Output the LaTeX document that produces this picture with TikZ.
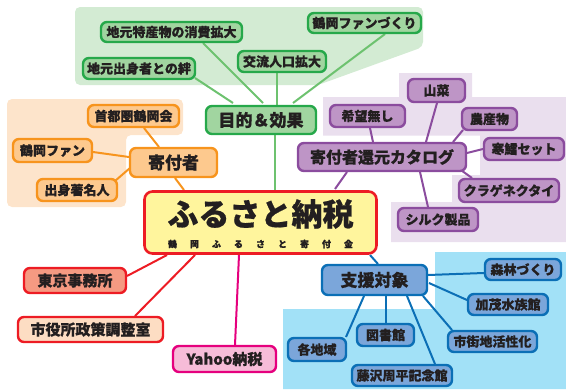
\documentclass[tikz,border=0pt]{standalone}
\usepackage{fontspec}
\setmainfont{Noto Sans CJK JP}[BoldFeatures={FakeBold=0.6}]
\usetikzlibrary{calc}
\pgfdeclarelayer{bgr}
\pgfdeclarelayer{edges}
\pgfsetlayers{bgr,edges,main}
\definecolor{txt}{HTML}{231F20}
\definecolor{gBg}{HTML}{D3EBD3}
\definecolor{gF}{HTML}{A1D5A0}
\definecolor{gD}{HTML}{26A84A}
\definecolor{gL}{HTML}{6DC26F}
\definecolor{oBg}{HTML}{FDE4CB}
\definecolor{oF}{HTML}{FDC98E}
\definecolor{oD}{HTML}{F7941D}
\definecolor{pBg}{HTML}{EADFEE}
\definecolor{pF}{HTML}{BE95C6}
\definecolor{pD}{HTML}{8B4C9E}
\definecolor{bBg}{HTML}{A2E1F7}
\definecolor{bF}{HTML}{7BA6DA}
\definecolor{bD}{HTML}{0B6FB6}
\definecolor{rD}{HTML}{ED1C24}
\definecolor{rF}{HTML}{F59A82}
\definecolor{rF2}{HTML}{FDDDC3}
\definecolor{mD}{HTML}{E5007E}
\definecolor{mF}{HTML}{F6BCD8}
\definecolor{yF}{HTML}{FFF59D}
\tikzset{
  box/.style={draw, rounded corners=6pt, line width=2.4pt, inner sep=0pt, text=txt,
    font=\bfseries\fontsize{13}{13}\selectfont},
  big/.style={font=\bfseries\fontsize{17}{17}\selectfont},
  mid/.style={font=\bfseries\fontsize{15}{15}\selectfont},
  gbox/.style={box, draw=gD, fill=gF},
  obox/.style={box, draw=oD, fill=oF},
  pbox/.style={box, draw=pD, fill=pF},
  bbox/.style={box, draw=bD, fill=bF},
  gline/.style={draw=gL, line width=2pt},
  oline/.style={draw=oD, line width=2pt},
  pline/.style={draw=pD, line width=2pt},
  bline/.style={draw=bD, line width=2pt},
  rline/.style={draw=rD, line width=2pt},
  mline/.style={draw=mD, line width=2pt},
  sz/.style n args={2}{minimum width=#1pt, minimum height=#2pt},
}
\begin{document}
\begin{tikzpicture}[x=1pt,y=-1pt]
\useasboundingbox (0,0) rectangle (566,389);
% main
\node[box, draw=rD, fill=yF, rounded corners=8pt, line width=2.6pt, sz={232}{62}] (main) at (260.5,222.5) {};
\node[text=txt, font=\bfseries\fontsize{31}{31}\selectfont\addfontfeature{FakeBold=1.5}, inner sep=0pt] (title) at (260.5,214) {ふるさと納税};
\node[text=txt, font=\bfseries\fontsize{9}{9}\selectfont, inner sep=0pt] (sub) at (260.5,244) {\makebox[185pt][s]{鶴\hfill 岡\hfill ふ\hfill る\hfill さ\hfill と\hfill 寄\hfill 付\hfill 金}};
% green
\node[gbox, sz={141}{20}] (tok) at (171.5,32) {地元特産物の消費拡大};
\node[gbox, sz={113}{20}] (fan2) at (364.5,23) {鶴岡ファンづくり};
\node[gbox, sz={88}{21}] (kor) at (282,61.5) {交流人口拡大};
\node[gbox, sz={112}{21}] (kiz) at (139,68.5) {地元出身者との絆};
\node[gbox, big, sz={110}{28}] (mok) at (261,120) {目的＆効果};
% orange
\node[obox, big, sz={87}{29}] (kif) at (173.5,162.5) {寄付者};
\node[obox, sz={91}{22}] (shu) at (133.5,116) {首都圏鶴岡会};
\node[obox, sz={79}{23}] (tfan) at (52.5,150.5) {鶴岡ファン};
\node[obox, sz={80}{22}] (shus) at (77,190) {出身著名人};
% red / pink
\node[box, mid, draw=rD, fill=rF, sz={102}{25}] (tok2) at (75,280.5) {東京事務所};
\node[box, mid, draw=rD, fill=rF2, sz={145}{25}] (shiy) at (90.5,329.5) {市役所政策調整室};
\node[box, mid, draw=mD, fill=mF, sz={103}{26}] (yah) at (224.5,359) {Yahoo納税};
% purple
\node[pbox, font=\bfseries\fontsize{16}{16}\selectfont, sz={168}{28}] (cat) at (382,157) {寄付者還元カタログ};
\node[pbox, sz={75}{22}] (kib) at (367.5,116) {希望無し};
\node[pbox, sz={57}{23}] (san) at (436.5,90.5) {山菜};
\node[pbox, sz={55}{22}] (nou) at (489.5,119) {農産物};
\node[pbox, sz={80}{22}] (kan) at (524,149) {寒鱈セット};
\node[pbox, sz={100}{23}] (kur) at (509,190.5) {クラゲネクタイ};
\node[pbox, sz={80}{23}] (sil) at (438,219.5) {シルク製品};
% blue
\node[bbox, big, sz={105}{30}] (shi) at (374.5,280) {支援対象};
\node[bbox, sz={76}{21}] (shin) at (523,269.5) {森林づくり};
\node[bbox, sz={80}{21}] (kam) at (508,304.5) {加茂水族館};
\node[bbox, sz={89}{21}] (gai) at (492.5,341.5) {市街地活性化};
\node[bbox, sz={57}{22}] (tos) at (385.5,335) {図書館};
\node[bbox, sz={58}{23}] (kak) at (317,349.5) {各地域};
\node[bbox, sz={100}{21}] (fuj) at (402,375.5) {藤沢周平記念館};
% backgrounds
\begin{pgfonlayer}{bgr}
\fill[gBg, rounded corners=5pt] (75,7) -- (423,7) -- (423,47) -- (318,85) -- (75,85) -- cycle;
\fill[oBg, rounded corners=5pt] (7,99) -- (183,99) -- (183,135) -- (126,135) -- (126,207) -- (7,207) -- cycle;
\fill[pBg] (399,73) rectangle (472,97.5) (323,97) rectangle (566,135.5)
  (480,135) rectangle (566,175.5) (452,175) rectangle (566,202.5) (391,202) rectangle (566,242);
\fill[bBg] (435,252) rectangle (566,389) (283,309) rectangle (566,389);
\end{pgfonlayer}
% edges
\begin{pgfonlayer}{edges}
\draw[gline] ($(kiz)+(56,9.5)$) -- ($(mok)+(-28,-17)$);
\draw[gline] ($(tok)+(31.5,11)$) -- ($(mok)+(2,-17)$);
\draw[gline] ($(kor)+(-5,11.5)$) -- ($(mok)+(16,-15)$);
\draw[gline] ($(fan2)+(20.5,11)$) -- ($(mok)+(32,-17)$);
\draw[gline] ($(mok)+(14,15)$) -- ($(main)+(14.5,-32.5)$);
\draw[oline] ($(shu)+(10.5,12)$) -- ($(kif)+(-14.5,-15.5)$);
\draw[oline] ($(tfan)+(40.5,1.5)$) -- ($(kif)+(-44.5,-5.5)$);
\draw[oline] ($(shus)+(38,-9)$) -- ($(kif)+(-43.5,5.5)$);
\draw[oline] ($(kif)+(1.5,15.5)$) -- ($(main)+(-76.5,-32.5)$);
\draw[pline] ($(main)+(74.5,-33.5)$) -- ($(cat)+(-35,15)$);
\draw[pline] ($(kib)+(2.5,12)$) -- ($(cat)+(-9,-15)$);
\draw[pline] ($(san)+(0.5,12.5)$) -- ($(cat)+(44,-15)$);
\draw[pline] ($(nou)+(-26.5,11)$) -- ($(cat)+(71,-15)$);
\draw[pline] ($(kan)+(-41,0)$) -- ($(cat)+(85,-4)$);
\draw[pline] ($(kur)+(-37,-12.5)$) -- ($(cat)+(76,11)$);
\draw[pline] ($(sil)+(-10,-12.5)$) -- ($(cat)+(38,15)$);
\draw[bline] ($(main)+(109.5,32.5)$) -- ($(shi)+(3.5,-16)$);
\draw[bline] ($(shi)+(53.5,-5)$) -- ($(shin)+(-39,3.5)$);
\draw[bline] ($(shi)+(54.5,3)$) -- ($(kam)+(-41,-4.5)$);
\draw[bline] ($(shi)+(48.5,16)$) -- ($(gai)+(-40.5,-11.5)$);
\draw[bline] ($(shi)+(32.5,16)$) -- ($(fuj)+(33,-11.5)$);
\draw[bline] ($(shi)+(11.5,16)$) -- ($(tos)+(0.5,-12)$);
\draw[bline] ($(shi)+(-10.5,16)$) -- ($(kak)+(29,-12.5)$);
\draw[rline] ($(tok2)+(52,-4.5)$) -- ($(main)+(-93.5,32.5)$);
\draw[rline] ($(shiy)+(44.5,-13.5)$) -- ($(main)+(-65.5,32.5)$);
\draw[mline] ($(main)+(-21.5,32.5)$) -- ($(yah)+(10.5,-14)$);
\end{pgfonlayer}
\end{tikzpicture}
\end{document}
